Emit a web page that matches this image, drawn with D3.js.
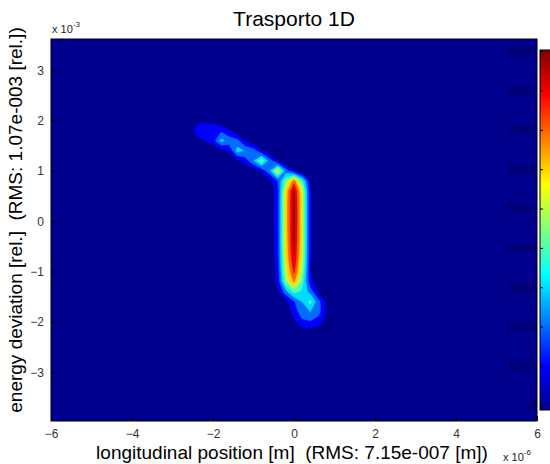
<!DOCTYPE html>
<html>
<head>
<meta charset="utf-8">
<script src="https://cdn.jsdelivr.net/npm/d3@7"></script>
<style>
  body { margin: 0; background: #fff; }
  text { font-family: "Liberation Sans", Arial, sans-serif; }
</style>
</head>
<body>
<div id="chart"></div>
<script>
// grid nodes of the histogram (x in 1e-6 m, y in 1e-3)
const xGrid = [-2.8, -2.6, -2.4, -2.2, -2.0, -1.8, -1.6, -1.4, -1.2, -1.0, -0.8, -0.6, -0.4, -0.2, 0, 0.2, 0.4, 0.6, 0.8, 1.0, 1.2]
const yGrid = [2.2, 2.0, 1.8, 1.6, 1.4, 1.2, 1.0, 0.8, 0.6, 0.4, 0.2, 0.0, -0.2, -0.4, -0.6, -0.8, -1.0, -1.2, -1.4, -1.6, -1.8, -2.0, -2.2, -2.4, -2.6]

// particle counts, one row per yGrid value (top to bottom)
const density = [
  [0, 0, 0, 0, 0, 0, 0, 0, 0, 0, 0, 0, 0, 0, 0, 0, 0, 0, 0, 0, 0],
  [0, 0, 700, 750, 500, 100, 0, 0, 0, 0, 0, 0, 0, 0, 0, 0, 0, 0, 0, 0, 0],
  [0, 0, 1500, 1900, 2000, 1800, 1100, 200, 0, 0, 0, 0, 0, 0, 0, 0, 0, 0, 0, 0, 0],
  [0, 100, 600, 1000, 1500, 3300, 2600, 2300, 900, 100, 0, 0, 0, 0, 0, 0, 0, 0, 0, 0, 0],
  [0, 0, 0, 0, 0, 600, 1100, 3400, 2900, 2500, 1100, 100, 0, 0, 0, 0, 0, 0, 0, 0, 0],
  [0, 0, 0, 0, 0, 0, 100, 700, 1500, 3000, 4800, 2500, 900, 0, 0, 0, 0, 0, 0, 0, 0],
  [0, 0, 0, 0, 0, 0, 0, 0, 0, 200, 1200, 2800, 6000, 2500, 900, 0, 0, 0, 0, 0, 0],
  [0, 0, 0, 0, 0, 0, 0, 0, 0, 0, 0, 500, 2000, 4700, 7500, 4200, 900, 50, 0, 0, 0],
  [0, 0, 0, 0, 0, 0, 0, 0, 0, 0, 0, 150, 1560, 6250, 9200, 5700, 1100, 100, 0, 0, 0],
  [0, 0, 0, 0, 0, 0, 0, 0, 0, 0, 0, 150, 1590, 6360, 9350, 5800, 1120, 100, 0, 0, 0],
  [0, 0, 0, 0, 0, 0, 0, 0, 0, 0, 0, 150, 1600, 6390, 9400, 5830, 1130, 100, 0, 0, 0],
  [0, 0, 0, 0, 0, 0, 0, 0, 0, 0, 0, 150, 1600, 6390, 9400, 5830, 1130, 100, 0, 0, 0],
  [0, 0, 0, 0, 0, 0, 0, 0, 0, 0, 0, 150, 1590, 6360, 9350, 5800, 1120, 100, 0, 0, 0],
  [0, 0, 0, 0, 0, 0, 0, 0, 0, 0, 0, 150, 1580, 6320, 9300, 5770, 1120, 100, 0, 0, 0],
  [0, 0, 0, 0, 0, 0, 0, 0, 0, 0, 0, 150, 1560, 6220, 9150, 5670, 1100, 100, 0, 0, 0],
  [0, 0, 0, 0, 0, 0, 0, 0, 0, 0, 0, 150, 1500, 5980, 8800, 5460, 1060, 100, 0, 0, 0],
  [0, 0, 0, 0, 0, 0, 0, 0, 0, 0, 0, 150, 1390, 5580, 8200, 5080, 980, 100, 0, 0, 0],
  [0, 0, 0, 0, 0, 0, 0, 0, 0, 0, 0, 100, 1220, 4900, 7200, 4460, 1300, 300, 0, 0, 0],
  [0, 0, 0, 0, 0, 0, 0, 0, 0, 0, 0, 50, 700, 2700, 4400, 3800, 2600, 800, 100, 0, 0],
  [0, 0, 0, 0, 0, 0, 0, 0, 0, 0, 0, 0, 0, 600, 1900, 3000, 4300, 2400, 700, 0, 0],
  [0, 0, 0, 0, 0, 0, 0, 0, 0, 0, 0, 0, 0, 200, 1300, 2700, 3000, 2400, 900, 0, 0],
  [0, 0, 0, 0, 0, 0, 0, 0, 0, 0, 0, 0, 0, 0, 800, 1700, 1900, 1500, 500, 0, 0],
  [0, 0, 0, 0, 0, 0, 0, 0, 0, 0, 0, 0, 0, 0, 100, 400, 500, 300, 0, 0, 0],
  [0, 0, 0, 0, 0, 0, 0, 0, 0, 0, 0, 0, 0, 0, 0, 0, 0, 0, 0, 0, 0],
  [0, 0, 0, 0, 0, 0, 0, 0, 0, 0, 0, 0, 0, 0, 0, 0, 0, 0, 0, 0, 0]
]

const levels = [1000, 2000, 3000, 4000, 5000, 6000, 7000, 8000, 9000]
const xTicks = [-6, -4, -2, 0, 2, 4, 6]
const yTicks = [-3, -2, -1, 0, 1, 2, 3]
const cbTicks = [0, 1000, 2000, 3000, 4000, 5000, 6000, 7000, 8000, 9000]
const xDomain = [-6, 6]
const yDomain = [-3.97, 3.62]
const cDomain = [-120, 9030]

const jetStops = [0, 0.125, 0.375, 0.625, 0.875, 1]
const jetColors = ["#00008f", "#0000ff", "#00ffff", "#ffff00", "#ff0000", "#800000"]

var W = 550, H = 464
var plot = {left: 51, top: 39, right: 537, bottom: 421}

var svg = d3.select("#chart")
  .append("svg")
    .attr("width", W)
    .attr("height", H)

var x = d3.scaleLinear().domain(xDomain).range([plot.left, plot.right])
var y = d3.scaleLinear().domain(yDomain).range([plot.bottom, plot.top])

var color = d3.scaleLinear()
  .domain(jetStops.map(t => cDomain[0] + t * (cDomain[1] - cDomain[0])))
  .range(jetColors)
  .clamp(true)

svg.append("clipPath").attr("id", "clip")
  .append("rect")
    .attr("x", plot.left).attr("y", plot.top)
    .attr("width", plot.right - plot.left).attr("height", plot.bottom - plot.top)

// background = lowest band
svg.append("rect")
  .attr("x", plot.left).attr("y", plot.top)
  .attr("width", plot.right - plot.left).attr("height", plot.bottom - plot.top)
  .attr("fill", color(cDomain[0]))

// filled contours
var nx = xGrid.length, ny = yGrid.length
var gx = d3.scaleLinear().domain([0.5, nx - 0.5]).range([xGrid[0], xGrid[nx - 1]])
var gy = d3.scaleLinear().domain([0.5, ny - 0.5]).range([yGrid[0], yGrid[ny - 1]])

var contours = d3.contours()
  .size([nx, ny])
  .thresholds(levels)(density.flat())

var proj = d3.geoTransform({
  point: function (px, py) { this.stream.point(x(gx(px)), y(gy(py))) }
})
var path = d3.geoPath(proj)

svg.append("g")
  .attr("clip-path", "url(#clip)")
  .selectAll("path")
  .data(contours)
  .enter()
  .append("path")
    .attr("d", path)
    .attr("fill", d => color(d.value))
    .attr("stroke", d => color(d.value))
    .attr("stroke-width", 0.4)

// axes, ticks inside
var xAxis = svg.append("g")
  .attr("transform", "translate(0," + plot.bottom + ")")
  .call(d3.axisBottom(x).tickValues(xTicks).tickSize(-5).tickPadding(8))
var yAxis = svg.append("g")
  .attr("transform", "translate(" + plot.left + ",0)")
  .call(d3.axisLeft(y).tickValues(yTicks).tickSize(-5).tickPadding(7))

;[xAxis, yAxis].forEach(function (a) {
  a.select(".domain").remove()
  a.selectAll(".tick line").attr("stroke", "#000")
  a.selectAll(".tick text")
    .attr("fill", "#333")
    .style("font-size", "12px")
    .style("font-family", "'Liberation Sans', Arial, sans-serif")
})

svg.append("rect")
  .attr("x", plot.left).attr("y", plot.top)
  .attr("width", plot.right - plot.left).attr("height", plot.bottom - plot.top)
  .attr("fill", "none")
  .attr("stroke", "#000")
  .attr("stroke-width", 1)

// exponent markers
var e3 = svg.append("text")
  .attr("x", plot.left + 1).attr("y", 33)
  .style("font-size", "11px").attr("fill", "#222")
e3.append("tspan").text("x 10")
e3.append("tspan").attr("dy", -6).style("font-size", "8px").text("-3")

var e6 = svg.append("text")
  .attr("x", 503).attr("y", 461)
  .style("font-size", "11px").attr("fill", "#222")
e6.append("tspan").text("x 10")
e6.append("tspan").attr("dy", -6).style("font-size", "8px").text("-6")

// titles
svg.append("text")
  .attr("x", (plot.left + plot.right) / 2)
  .attr("y", 26)
  .attr("text-anchor", "middle")
  .style("font-size", "21px")
  .text("Trasporto 1D")

svg.append("text")
  .attr("x", 292)
  .attr("y", 459)
  .attr("text-anchor", "middle")
  .style("font-size", "19px")
  .style("white-space", "pre")
  .text("longitudinal position [m]  (RMS: 7.15e-007 [m])")

svg.append("text")
  .attr("transform", "translate(22," + 220 + ") rotate(-90)")
  .attr("text-anchor", "middle")
  .style("font-size", "19px")
  .style("white-space", "pre")
  .text("energy deviation [rel.]  (RMS: 1.07e-003 [rel.])")

// colorbar
var cb = {x: 540, w: 11, top: 50, bottom: 410}
var cy = d3.scaleLinear().domain(cDomain).range([cb.bottom, cb.top])

var grad = svg.append("defs").append("linearGradient")
  .attr("id", "jet")
  .attr("x1", 0).attr("y1", 1).attr("x2", 0).attr("y2", 0)
grad.selectAll("stop")
  .data(jetStops)
  .enter()
  .append("stop")
    .attr("offset", d => d)
    .attr("stop-color", (d, i) => jetColors[i])

svg.append("rect")
  .attr("x", cb.x).attr("y", cb.top)
  .attr("width", cb.w).attr("height", cb.bottom - cb.top)
  .attr("fill", "url(#jet)")
  .attr("stroke", "#000")
  .attr("stroke-width", 1)

var cbAxis = svg.append("g")
  .attr("transform", "translate(" + cb.x + ",0)")
  .call(d3.axisLeft(cy).tickValues(cbTicks).tickFormat(d3.format("d")).tickSize(-3).tickPadding(5))
cbAxis.select(".domain").remove()
cbAxis.selectAll(".tick line").attr("stroke", "#000")
cbAxis.selectAll(".tick text")
  .attr("fill", "#000050")
  .style("font-size", "12px")
  .style("font-family", "'Liberation Sans', Arial, sans-serif")
</script>
</body>
</html>
